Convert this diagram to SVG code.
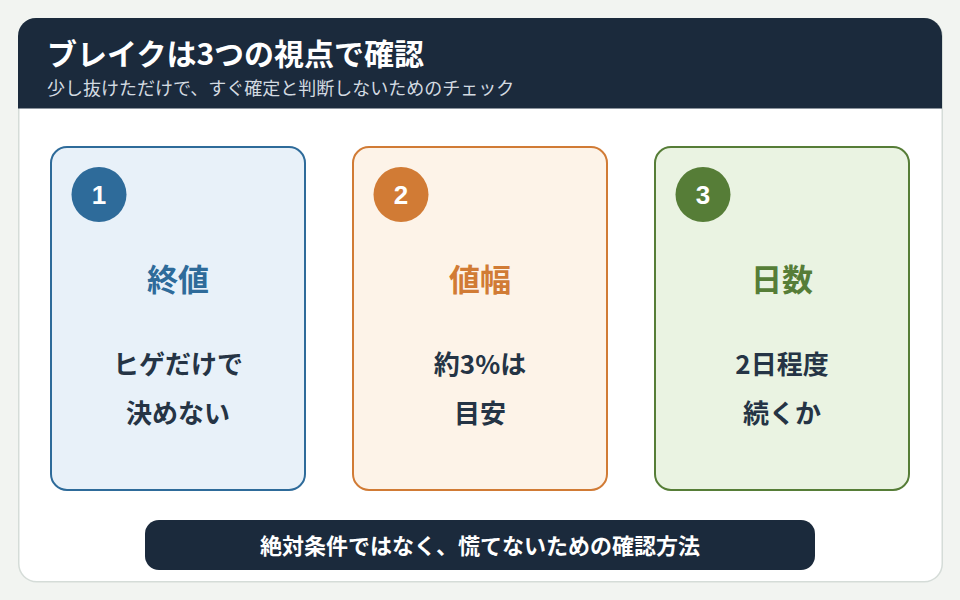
<svg xmlns="http://www.w3.org/2000/svg" width="960" height="600" viewBox="0 0 960 600">
<style>
text{font-family:"Noto Sans CJK JP","Noto Sans",sans-serif;}
.num{font-family:"Liberation Sans","Noto Sans",sans-serif;font-size:26px;font-weight:700;fill:#fff;text-anchor:middle;}
.ttl{font-size:31px;font-weight:700;text-anchor:middle;}
.body{font-size:26px;font-weight:700;fill:#253445;text-anchor:middle;}
</style>
<rect width="960" height="600" fill="#f2f4f1"/>
<g id="frame">
<rect x="18.75" y="18.75" width="923.5" height="563" rx="18" fill="#fff" stroke="#d5dcd8" stroke-width="1.5"/>
<path d="M18 108.5 V36 A18 18 0 0 1 36 18 H924 A18 18 0 0 1 942 36 V108.5 Z" fill="#1b2a3c"/>
<text x="47" y="65" font-size="30" font-weight="700" fill="#fff">ブレイクは3つの視点で確認</text>
<text x="47" y="95" font-size="18" fill="#d3dae1">少し抜けただけで、すぐ確定と判断しないためのチェック</text>
</g>
<g id="card1">
<rect x="51" y="147" width="254" height="343" rx="16" fill="#e8f1f9" stroke="#2e6b9a" stroke-width="2"/>
<circle cx="99" cy="194.5" r="27.5" fill="#2e6b9a"/>
<text class="num" x="99" y="203.5">1</text>
<text class="ttl" x="178" y="291" fill="#2e6b9a">終値</text>
<text class="body" x="178" y="374">ヒゲだけで</text>
<text class="body" x="178" y="423">決めない</text>
</g>
<g id="card2">
<rect x="353" y="147" width="254" height="343" rx="16" fill="#fdf3e8" stroke="#d17b35" stroke-width="2"/>
<circle cx="401" cy="194.5" r="27.5" fill="#d17b35"/>
<text class="num" x="401" y="203.5">2</text>
<text class="ttl" x="480" y="291" fill="#d17b35">値幅</text>
<text class="body" x="480" y="374">約3%は</text>
<text class="body" x="480" y="423">目安</text>
</g>
<g id="card3">
<rect x="655" y="147" width="254" height="343" rx="16" fill="#eaf3e2" stroke="#567d37" stroke-width="2"/>
<circle cx="703" cy="194.5" r="27.5" fill="#567d37"/>
<text class="num" x="703" y="203.5">3</text>
<text class="ttl" x="782" y="291" fill="#567d37">日数</text>
<text class="body" x="782" y="374">2日程度</text>
<text class="body" x="782" y="423">続くか</text>
</g>
<g id="footer">
<rect x="145" y="520" width="670" height="50" rx="14" fill="#1b2a3c"/>
<text x="480" y="554" font-size="22" font-weight="700" fill="#fff" text-anchor="middle">絶対条件ではなく、慌てないための確認方法</text>
</g>
</svg>
